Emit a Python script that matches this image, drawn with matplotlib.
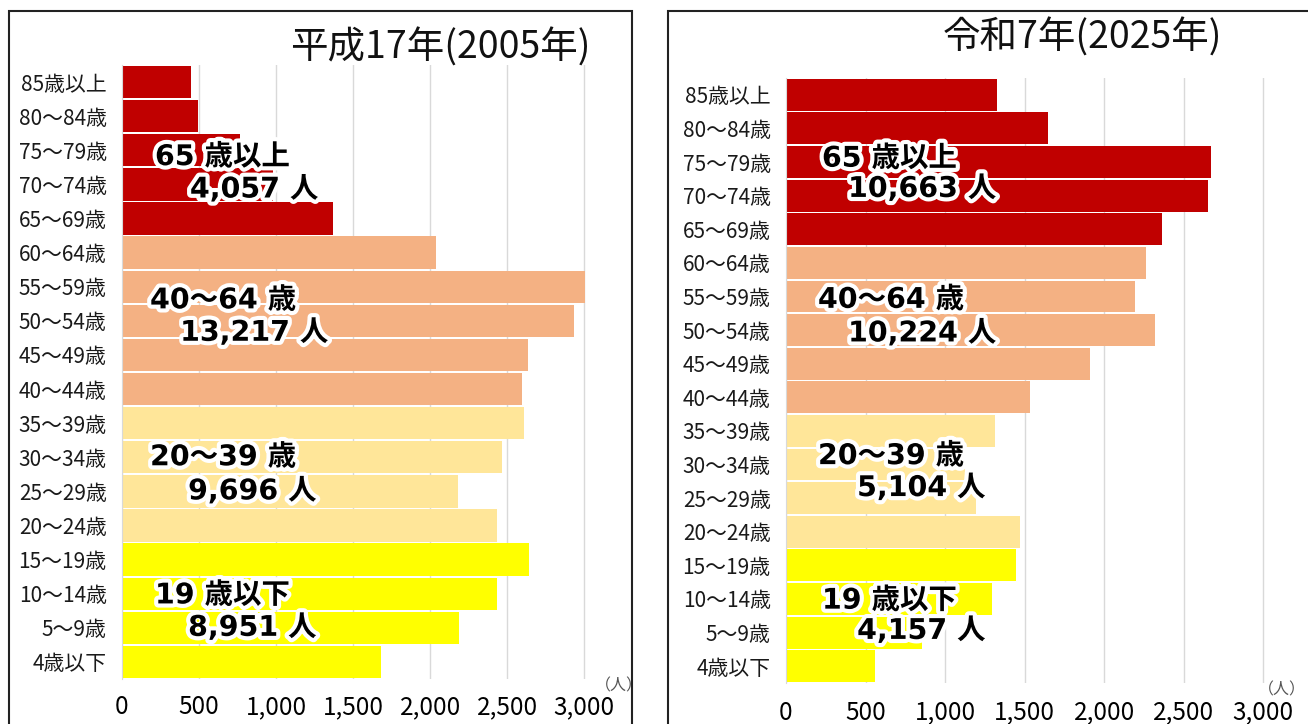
import numpy as np
import matplotlib.pyplot as plt
import matplotlib.patheffects as pe
from matplotlib.patches import Rectangle

plt.rcParams['font.family'] = ['Noto Sans CJK JP', 'DejaVu Sans']

# 年齢階級（上から）
ages = ['85歳以上', '80～84歳', '75～79歳', '70～74歳', '65～69歳',
        '60～64歳', '55～59歳', '50～54歳', '45～49歳', '40～44歳',
        '35～39歳', '30～34歳', '25～29歳', '20～24歳',
        '15～19歳', '10～14歳', '5～9歳', '4歳以下']

# 平成17年(2005年)
pop_2005 = [448, 494, 766, 979, 1370,
            2041, 3008, 2937, 2633, 2598,
            2610, 2468, 2183, 2435,
            2644, 2436, 2189, 1682]
# 令和7年(2025年)
pop_2025 = [1327, 1645, 2670, 2656, 2365,
            2262, 2197, 2322, 1910, 1533,
            1314, 1123, 1195, 1472,
            1447, 1296, 854, 560]

group_colors = ['#C00000'] * 5 + ['#F4B183'] * 5 + ['#FFE699'] * 4 + ['#FFFF00'] * 4

labels_2005 = [('65 歳以上', 214, 2.2), ('4,057 人', 441, 3.15),
               ('40～64 歳', 182, 6.4), ('13,217 人', 377, 7.35),
               ('20～39 歳', 182, 11.0), ('9,696 人', 429, 12.0),
               ('19 歳以下', 214, 15.05), ('8,951 人', 429, 16.0)]
labels_2025 = [('65 歳以上', 226, 1.9), ('10,663 人', 390, 2.8),
               ('40～64 歳', 201, 6.1), ('10,224 人', 390, 7.1),
               ('20～39 歳', 201, 10.75), ('5,104 人', 447, 11.7),
               ('19 歳以下', 226, 15.05), ('4,157 人', 447, 15.95)]

xticks = [0, 500, 1000, 1500, 2000, 2500, 3000]

W, H = 1308, 724
fig = plt.figure(figsize=(W / 100, H / 100), dpi=100)

# 枠線
fig.patches.append(Rectangle((9 / W, -0.1), (632 - 9) / W, 1.1 - 11 / H,
                             transform=fig.transFigure, fill=False,
                             edgecolor='#222222', linewidth=1.5))
fig.patches.append(Rectangle((668 / W, -0.1), 0.5, 1.1 - 11 / H,
                             transform=fig.transFigure, fill=False,
                             edgecolor='#222222', linewidth=1.5))


def panel(rect, values, title, title_xy, notes, unit_xy, xpad):
    ax = fig.add_axes(rect)
    y = np.arange(len(ages))
    ax.barh(y, values, height=0.95, color=group_colors, zorder=2)
    ax.set_ylim(len(ages) - 0.5, -0.5)
    ax.set_xlim(0, 3200)
    ax.set_xticks(xticks)
    ax.set_xticklabels([f'{v:,}' for v in xticks], fontsize=17.5)
    ax.set_yticks(y)
    ax.set_yticklabels(ages, fontsize=15, color='#1a1a1a')
    ax.tick_params(length=0, pad=11)
    ax.tick_params(axis='x', pad=xpad)
    ax.xaxis.grid(True, color='#D9D9D9', linewidth=1, zorder=0)
    for s in ['top', 'right', 'bottom']:
        ax.spines[s].set_visible(False)
    ax.spines['left'].set_color('#D9D9D9')
    for txt, xv, yv in notes:
        ax.text(xv, yv, txt, fontsize=20.5, fontweight='bold', color='black',
                family=['DejaVu Sans', 'Noto Sans CJK JP'],
                ha='left', va='center', zorder=5,
                path_effects=[pe.withStroke(linewidth=6, foreground='white')])
    fig.text(title_xy[0] / W, 1 - title_xy[1] / H, title, fontsize=27,
             ha='left', va='center', color='#111111')
    fig.text(unit_xy[0] / W, 1 - unit_xy[1] / H, '（人）', fontsize=11.5,
             ha='left', va='center', color='#555555')
    return ax


panel([122 / W, 1 - 679 / H, 493 / W, 614 / H], pop_2005,
      '平成17年(2005年)', (290, 48), labels_2005, (595, 686), 11)
panel([786 / W, 1 - 683 / H, 509 / W, 605 / H], pop_2025,
      '令和7年(2025年)', (943, 38), labels_2025, (1258, 690), 12)

fig.savefig('out.png', dpi=100)
